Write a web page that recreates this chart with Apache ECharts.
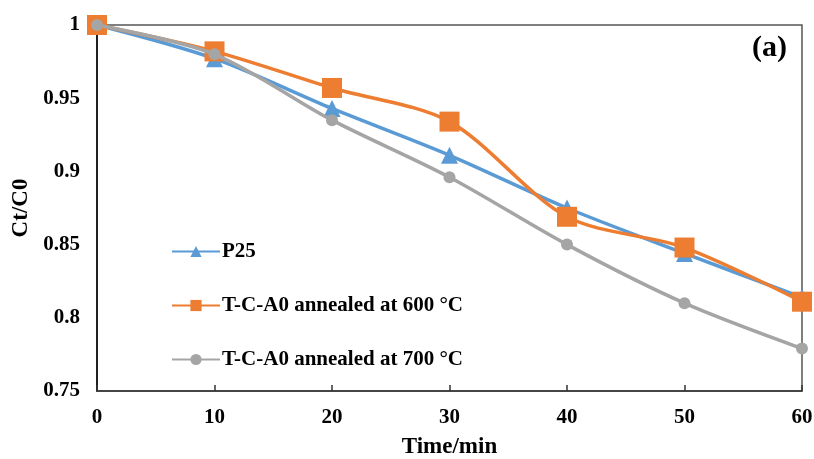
<!DOCTYPE html>
<html><head><meta charset="utf-8">
<script src="https://cdn.jsdelivr.net/npm/echarts@6/dist/echarts.min.js"></script>
<style>html,body{margin:0;padding:0;background:#fff}#c{width:814px;height:459px}</style>
</head><body><div id="c"></div>
<script>
const times = [0, 10, 20, 30, 40, 50, 60];
const p25 = [1, 0.977, 0.943, 0.911, 0.875, 0.844, 0.814];
const tca600 = [1, 0.982, 0.957, 0.934, 0.869, 0.848, 0.811];
const tca700 = [1, 0.980, 0.935, 0.896, 0.850, 0.810, 0.779];
const seriesNames = ['P25', 'T-C-A0 annealed at 600 °C', 'T-C-A0 annealed at 700 °C'];
const xTitle = 'Time/min';
const yTitle = 'Ct/C0';
const panelLabel = '(a)';

const font = 'Liberation Serif';
const chart = echarts.init(document.getElementById('c'));
const pair = arr => times.map((t, i) => [t, arr[i]]);
chart.setOption({
  animation: false,
  backgroundColor: '#fff',
  textStyle: { fontFamily: font },
  grid: { left: 97, right: 12, top: 25, bottom: 68, containLabel: false, outerBoundsMode: 'none',
    show: true, borderColor: '#555', borderWidth: 1.5 },
  graphic: [{ type: 'text', right: 27, top: 33, style: { text: panelLabel, font: 'bold 30px "Liberation Serif"', fill: '#000' } }],
  legend: {
    orient: 'vertical', left: 166, top: 236, itemGap: 33, itemWidth: 48, itemHeight: 14,
    textStyle: { fontFamily: font, fontWeight: 'bold', fontSize: 21, color: '#000', padding: [0, 0, 0, -3] },
    data: seriesNames
  },
  xAxis: {
    type: 'value', min: 0, max: 60, interval: 10,
    name: xTitle, nameLocation: 'middle', nameGap: 45,
    nameTextStyle: { fontFamily: font, fontWeight: 'bold', fontSize: 23, color: '#000' },
    axisLine: { lineStyle: { color: '#333', width: 1.5 } },
    axisTick: { show: true, inside: true, length: 6, lineStyle: { color: '#333', width: 1.5 } },
    axisLabel: { fontFamily: font, fontWeight: 'bold', fontSize: 21, color: '#000', margin: 16 },
    splitLine: { show: false }
  },
  yAxis: {
    type: 'value', min: 0.75, max: 1, interval: 0.05,
    name: yTitle, nameLocation: 'middle', nameGap: 64, nameRotate: 90,
    nameTextStyle: { fontFamily: font, fontWeight: 'bold', fontSize: 23, color: '#000' },
    axisLine: { show: true, lineStyle: { color: '#000', width: 1.5 } },
    axisTick: { show: false },
    axisLabel: { fontFamily: font, fontWeight: 'bold', fontSize: 21, color: '#000', margin: 17,
      formatter: v => String(+v.toFixed(2)) },
    splitLine: { show: false }
  },
  series: [
    { name: seriesNames[0], type: 'line', smooth: 0.3, data: pair(p25), symbol: 'triangle', symbolSize: 17,
      lineStyle: { color: '#5B9BD5', width: 3.5 }, itemStyle: { color: '#5B9BD5' }, z: 2 },
    { name: seriesNames[1], type: 'line', smooth: 0.3, data: pair(tca600), symbol: 'rect', symbolSize: 20,
      lineStyle: { color: '#ED7D31', width: 3.5 }, itemStyle: { color: '#ED7D31' }, z: 3 },
    { name: seriesNames[2], type: 'line', smooth: 0.3, data: pair(tca700), symbol: 'circle', symbolSize: 12,
      lineStyle: { color: '#A5A5A5', width: 3.5 }, itemStyle: { color: '#A5A5A5' }, z: 4 }
  ]
});
</script></body></html>
